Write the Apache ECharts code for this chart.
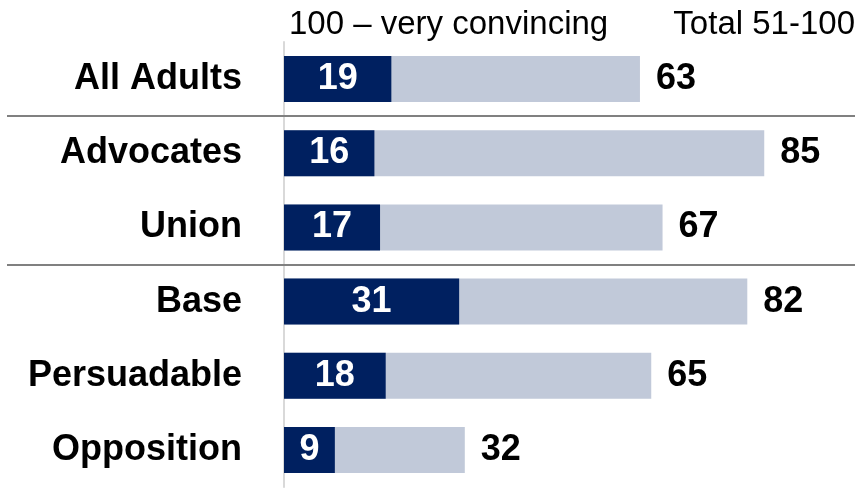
<!DOCTYPE html>
<html>
<head>
<meta charset="utf-8">
<script src="https://cdn.jsdelivr.net/npm/echarts@6/dist/echarts.min.js"></script>
<style>
  html, body { margin: 0; padding: 0; background: #ffffff; }
  #chart { width: 863px; height: 492px; }
</style>
</head>
<body>
<div id="chart"></div>
<script>
// Audience groups, top to bottom
const groups = ['All Adults', 'Advocates', 'Union', 'Base', 'Persuadable', 'Opposition'];
// Share rating the message 100 (very convincing)
const veryConvincing = [19, 16, 17, 31, 18, 9];
// Share rating the message anywhere from 51 to 100
const total51to100 = [63, 85, 67, 82, 65, 32];
// Column headings
const headingVery = '100 \u2013 very convincing';
const headingTotal = 'Total 51-100';
// Group boundaries that get a divider line (after these indices)
const dividersAfter = [0, 2];

const FONT = '"Liberation Sans", Arial, sans-serif';
const DARK = '#002060';
const LIGHT = '#C1C9D9';

const chart = echarts.init(document.getElementById('chart'), null, { renderer: 'canvas' });

chart.setOption({
  animation: false,
  backgroundColor: '#ffffff',
  grid: { left: 284, right: 14, top: 42, bottom: 5, containLabel: false },
  xAxis: {
    type: 'value', min: 0, max: 100,
    show: false
  },
  yAxis: {
    type: 'category',
    data: groups,
    inverse: true,
    axisTick: { show: false },
    axisLine: { show: true, lineStyle: { color: '#d9d9d9', width: 2 } },
    axisLabel: {
      margin: 42,
      color: '#000000',
      fontFamily: FONT,
      fontWeight: 'bold',
      fontSize: 36
    },
    splitLine: { show: false }
  },
  series: [
    {
      name: headingTotal,
      type: 'bar',
      data: total51to100,
      barWidth: 46,
      barGap: '-100%',
      itemStyle: { color: LIGHT },
      label: {
        show: true,
        position: 'right',
        distance: 16,
        color: '#000000',
        fontFamily: FONT,
        fontWeight: 'bold',
        fontSize: 36
      },
      z: 2
    },
    {
      name: headingVery,
      type: 'bar',
      data: veryConvincing,
      barWidth: 46,
      barGap: '-100%',
      itemStyle: { color: DARK },
      label: {
        show: true,
        position: 'inside',
        color: '#ffffff',
        fontFamily: FONT,
        fontWeight: 'bold',
        fontSize: 36
      },
      z: 3
    }
  ]
});

// Headings and group dividers, placed from the axis scale
function drawOverlay() {
  const elements = [
    {
      type: 'text',
      left: 289, top: 8,
      style: { text: headingVery, fill: '#000000', font: '33px ' + FONT }
    },
    {
      type: 'text',
      right: 8, top: 8,
      style: { text: headingTotal, fill: '#000000', font: '33px ' + FONT }
    }
  ];
  dividersAfter.forEach(function (i) {
    const a = chart.convertToPixel({ yAxisIndex: 0 }, groups[i]);
    const b = chart.convertToPixel({ yAxisIndex: 0 }, groups[i + 1]);
    const y = Math.round((a + b) / 2);
    elements.push({
      type: 'line',
      shape: { x1: 7, y1: y, x2: 855, y2: y },
      style: { stroke: '#808080', lineWidth: 2 },
      z: 10
    });
  });
  chart.setOption({ graphic: elements });
}
drawOverlay();
</script>
</body>
</html>
